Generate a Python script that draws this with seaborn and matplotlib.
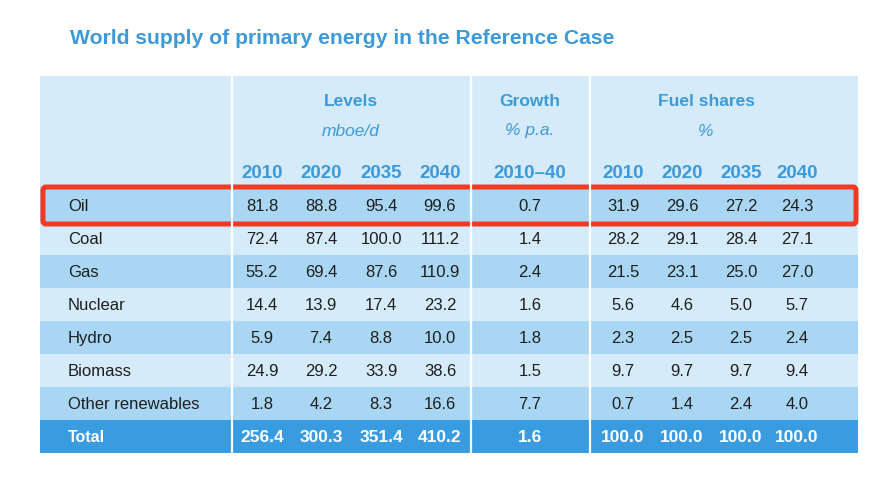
import matplotlib
matplotlib.use("Agg")
import matplotlib.pyplot as plt
from matplotlib.patches import Rectangle, FancyBboxPatch
from matplotlib import font_manager
import seaborn as sns

# ---------------- data ----------------
title = "World supply of primary energy in the Reference Case"
fuels = ["Oil", "Coal", "Gas", "Nuclear", "Hydro", "Biomass", "Other renewables", "Total"]
level_years = ["2010", "2020", "2035", "2040"]
growth_period = ["2010\u201340"]
share_years = ["2010", "2020", "2035", "2040"]

levels = [
    [81.8, 88.8, 95.4, 99.6],
    [72.4, 87.4, 100.0, 111.2],
    [55.2, 69.4, 87.6, 110.9],
    [14.4, 13.9, 17.4, 23.2],
    [5.9, 7.4, 8.8, 10.0],
    [24.9, 29.2, 33.9, 38.6],
    [1.8, 4.2, 8.3, 16.6],
    [256.4, 300.3, 351.4, 410.2],
]
growth = [0.7, 1.4, 2.4, 1.6, 1.8, 1.5, 7.7, 1.6]
shares = [
    [31.9, 29.6, 27.2, 24.3],
    [28.2, 29.1, 28.4, 27.1],
    [21.5, 23.1, 25.0, 27.0],
    [5.6, 4.6, 5.0, 5.7],
    [2.3, 2.5, 2.5, 2.4],
    [9.7, 9.7, 9.7, 9.4],
    [0.7, 1.4, 2.4, 4.0],
    [100.0, 100.0, 100.0, 100.0],
]
groups = ["Levels", "Growth", "Fuel shares"]
units = ["mboe/d", "% p.a.", "%"]
highlight_row = "Oil"

# ---------------- style ----------------
sns.set_theme(style="white")
avail = {f.name for f in font_manager.fontManager.ttflist}
body_font = "Liberation Sans" if "Liberation Sans" in avail else "DejaVu Sans"
narrow_font = "Liberation Sans Narrow" if "Liberation Sans Narrow" in avail else body_font
plt.rcParams["font.family"] = [body_font, "DejaVu Sans"]

BLUE = "#3d9ad9"
LIGHT = "#d6ebf9"
DARK = "#a9d7f3"
TOTAL = "#3a9ce0"
TEXT = "#1e1e1e"
RED = "#f03a22"

W, H = 889, 497
fig = plt.figure(figsize=(W / 100, H / 100), dpi=100)
ax = fig.add_axes([0, 0, 1, 1])
ax.set_xlim(0, W)
ax.set_ylim(H, 0)
ax.axis("off")

# layout (pixels)
left, right = 40, 858
top = 76
row_top = 189
row_h = 33
seps = [232, 471, 590]
level_x = [262, 321, 381, 440]
growth_x = [530]
share_x = [623, 682, 741, 797]
label_x = 68

nrows = len(fuels)
bottom = row_top + row_h * nrows

# header background
ax.add_patch(Rectangle((left, top), right - left, row_top - top, color=LIGHT, lw=0))
# row backgrounds
for i, f in enumerate(fuels):
    y0 = row_top + i * row_h
    if f == "Total":
        c = TOTAL
    else:
        c = DARK if i % 2 == 0 else LIGHT
    ax.add_patch(Rectangle((left, y0), right - left, row_h, color=c, lw=0))

# vertical white separators
for sx in seps:
    ax.plot([sx, sx], [top, bottom], color="white", lw=1.6, solid_capstyle="butt")

# title
ax.text(70, 38, title, color=BLUE, fontsize=15.2, fontweight="bold",
        family=[narrow_font, "DejaVu Sans"], ha="left", va="center")

# header
group_x = [(level_x[0] + level_x[-1]) / 2, growth_x[0], (share_x[0] + share_x[-1]) / 2 - 4]
for gx, g, u in zip(group_x, groups, units):
    ax.text(gx, 101, g, color=BLUE, fontsize=12.5, fontweight="bold", ha="center", va="center",
            family=[narrow_font, "DejaVu Sans"])
    ax.text(gx, 131, u, color=BLUE, fontsize=12.5, style="italic", ha="center", va="center")
for xs, labs in ((level_x, level_years), (growth_x, growth_period), (share_x, share_years)):
    for x, lab in zip(xs, labs):
        ax.text(x, 173, lab, color=BLUE, fontsize=13.5, fontweight="bold", ha="center", va="center")

# body
for i, f in enumerate(fuels):
    yc = row_top + i * row_h + row_h / 2 + 1
    total = f == "Total"
    kw = dict(color="white" if total else TEXT, fontsize=12 if not total else 12.5,
              fontweight="bold" if total else "normal", va="center")
    if total:
        kw["family"] = [narrow_font, "DejaVu Sans"]
        ax.text(label_x, yc, f, ha="left", **dict(kw, fontsize=11.5))
    else:
        ax.text(label_x, yc, f, ha="left", **kw)
    for x, v in zip(level_x, levels[i]):
        ax.text(x, yc, f"{v:.1f}", ha="center", **kw)
    ax.text(growth_x[0], yc, f"{growth[i]:.1f}", ha="center", **kw)
    for x, v in zip(share_x, shares[i]):
        ax.text(x, yc, f"{v:.1f}", ha="center", **kw)

# red highlight box
hi = fuels.index(highlight_row)
hy = row_top + hi * row_h
ax.add_patch(FancyBboxPatch((left + 3, hy - 2), right - left - 5, row_h + 4,
                            boxstyle="round,pad=0,rounding_size=3",
                            fill=False, ec=RED, lw=3.6))

fig.savefig("out.png", dpi=100)
